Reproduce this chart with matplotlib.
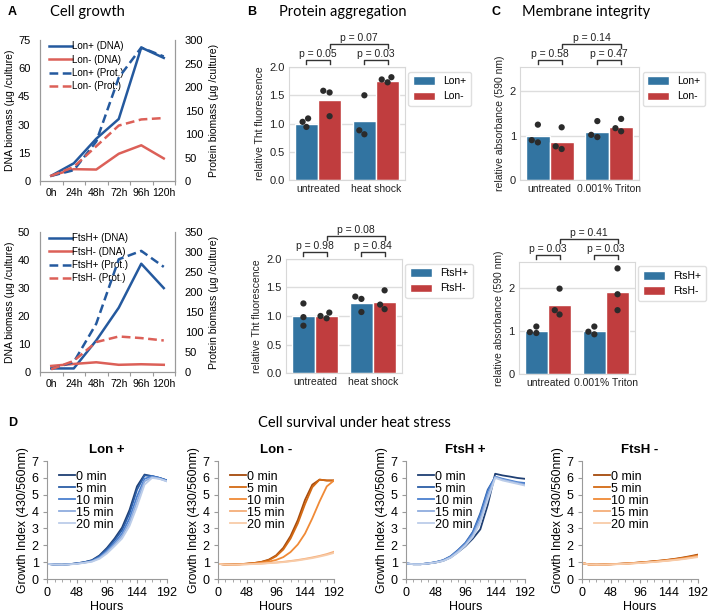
import matplotlib
matplotlib.use('Agg')
import matplotlib.pyplot as plt
import matplotlib.transforms as mtransforms
import numpy as np
import pandas as pd
import seaborn as sns

plt.rcParams['font.family'] = ['Liberation Sans', 'DejaVu Sans']

# ---- A: cell growth ----
days = ['0h', '24h', '48h', '72h', '96h', '120h']
lon_plus_dna = [2.8, 9.4, 22.5, 33, 71, 65.5]
lon_minus_dna = [2.8, 6.3, 6.1, 14.5, 19, 12]
lon_plus_prot = [11, 23, 84, 220, 284, 265]
lon_minus_prot = [11, 30, 74, 118, 131, 134]
ftsh_plus_dna = [1.3, 1.3, 11.3, 23, 38.7, 30]
ftsh_minus_dna = [2.2, 2.9, 3.5, 2.6, 2.8, 2.6]
ftsh_plus_prot = [8, 25, 121, 282, 303, 263]
ftsh_minus_prot = [7, 28, 75, 89, 85, 79]

# ---- B: protein aggregation (ThT) ----
cond_b = ['untreated', 'heat shock']
tht_lon_plus = [1.0, 1.05]
tht_lon_minus = [1.41, 1.76]
tht_lon_plus_pts = [[1.03, 1.09, 0.94], [1.5, 0.88, 0.81]]
tht_lon_minus_pts = [[1.58, 1.55, 1.13], [1.78, 1.82, 1.73]]
tht_ftsh_plus = [1.0, 1.22]
tht_ftsh_minus = [1.0, 1.24]
tht_ftsh_plus_pts = [[1.22, 0.98, 0.83], [1.34, 1.3, 1.07]]
tht_ftsh_minus_pts = [[1.0, 1.06, 0.96], [1.45, 1.2, 1.12]]

# ---- C: membrane integrity ----
cond_c = ['untreated', '0.001% Triton']
abs_lon_plus = [1.0, 1.08]
abs_lon_minus = [0.86, 1.19]
abs_lon_plus_pts = [[1.25, 0.9, 0.85], [1.33, 1.02, 0.97]]
abs_lon_minus_pts = [[1.19, 0.76, 0.7], [1.38, 1.17, 1.1]]
abs_ftsh_plus = [1.0, 1.0]
abs_ftsh_minus = [1.59, 1.91]
abs_ftsh_plus_pts = [[1.1, 0.95, 0.97], [1.1, 0.98, 0.92]]
abs_ftsh_minus_pts = [[1.98, 1.48, 1.38], [2.45, 1.85, 1.48]]

# ---- D: growth under heat stress ----
hours = [0, 12, 24, 36, 48, 60, 72, 84, 96, 108, 120, 132, 144, 156, 168, 180, 192]
heat_labels = ['0 min', '5 min', '10 min', '15 min', '20 min']
lon_plus_curves = [
    [0.90, 0.86, 0.85, 0.88, 0.93, 1.00, 1.12, 1.40, 1.85, 2.40, 3.05, 4.10, 5.50, 6.20, 6.10, 6.00, 5.85],
    [0.90, 0.86, 0.85, 0.88, 0.93, 1.00, 1.10, 1.36, 1.78, 2.30, 2.90, 3.90, 5.30, 6.15, 6.12, 6.00, 5.85],
    [0.90, 0.86, 0.85, 0.88, 0.92, 0.98, 1.07, 1.30, 1.68, 2.15, 2.70, 3.60, 4.90, 5.95, 6.10, 6.00, 5.85],
    [0.90, 0.86, 0.85, 0.87, 0.91, 0.97, 1.05, 1.25, 1.60, 2.05, 2.55, 3.35, 4.60, 5.80, 6.05, 5.95, 5.80],
    [0.90, 0.86, 0.85, 0.87, 0.90, 0.96, 1.03, 1.20, 1.52, 1.95, 2.40, 3.15, 4.30, 5.60, 6.00, 5.95, 5.80],
]
lon_minus_curves = [
    [0.90, 0.86, 0.86, 0.88, 0.91, 0.95, 1.02, 1.15, 1.40, 1.85, 2.55, 3.50, 4.70, 5.60, 5.90, 5.85, 5.85],
    [0.90, 0.86, 0.86, 0.88, 0.91, 0.95, 1.01, 1.12, 1.35, 1.75, 2.40, 3.30, 4.45, 5.45, 5.90, 5.85, 5.85],
    [0.90, 0.86, 0.86, 0.87, 0.90, 0.93, 0.97, 1.03, 1.13, 1.30, 1.60, 2.05, 2.70, 3.60, 4.60, 5.50, 5.85],
    [0.90, 0.86, 0.85, 0.86, 0.88, 0.90, 0.92, 0.95, 0.98, 1.02, 1.07, 1.13, 1.20, 1.28, 1.37, 1.48, 1.62],
    [0.90, 0.86, 0.85, 0.86, 0.87, 0.89, 0.91, 0.94, 0.97, 1.00, 1.05, 1.10, 1.17, 1.24, 1.33, 1.43, 1.55],
]
ftsh_plus_curves = [
    [0.92, 0.88, 0.88, 0.92, 0.98, 1.08, 1.28, 1.60, 1.95, 2.40, 2.95, 4.40, 6.25, 6.15, 6.08, 6.00, 5.95],
    [0.92, 0.88, 0.88, 0.93, 1.00, 1.12, 1.35, 1.72, 2.15, 2.80, 3.90, 5.30, 6.05, 5.90, 5.80, 5.70, 5.65],
    [0.92, 0.88, 0.88, 0.93, 1.00, 1.11, 1.33, 1.70, 2.12, 2.75, 3.80, 5.20, 6.08, 5.95, 5.85, 5.75, 5.70],
    [0.92, 0.88, 0.88, 0.92, 0.99, 1.09, 1.30, 1.65, 2.05, 2.62, 3.55, 4.95, 6.05, 5.90, 5.80, 5.70, 5.60],
    [0.92, 0.88, 0.88, 0.92, 0.98, 1.07, 1.26, 1.58, 1.98, 2.50, 3.35, 4.70, 6.00, 5.85, 5.75, 5.65, 5.55],
]
ftsh_minus_curves = [
    [0.95, 0.86, 0.85, 0.86, 0.88, 0.90, 0.92, 0.95, 0.98, 1.02, 1.06, 1.10, 1.15, 1.21, 1.28, 1.36, 1.45],
    [0.95, 0.86, 0.85, 0.86, 0.88, 0.90, 0.92, 0.95, 0.98, 1.01, 1.05, 1.09, 1.14, 1.19, 1.26, 1.33, 1.41],
    [0.95, 0.86, 0.85, 0.86, 0.87, 0.89, 0.91, 0.94, 0.97, 1.00, 1.04, 1.08, 1.12, 1.17, 1.23, 1.30, 1.38],
    [0.95, 0.86, 0.85, 0.86, 0.87, 0.89, 0.91, 0.93, 0.96, 0.99, 1.02, 1.06, 1.10, 1.15, 1.20, 1.27, 1.34],
    [0.95, 0.86, 0.85, 0.85, 0.87, 0.88, 0.90, 0.92, 0.95, 0.98, 1.01, 1.05, 1.09, 1.13, 1.18, 1.24, 1.30],
]

BLUE = '#24599e'
RED = '#dc6058'
blues = ['#1f3f73', '#2c5ea6', '#4b80cf', '#8fadde', '#bccde9']
oranges = ['#a54a0c', '#d36a14', '#f08a36', '#f5ae78', '#f8cba8']
AXGRAY = '#9a9a9a'


def growth_panel(rect, dna_p, dna_m, prot_p, prot_m, names, dna_max, dna_step, prot_max, prot_step):
    ax = fig.add_axes(rect)
    ax2 = ax.twinx()
    x = np.arange(len(days))
    l1, = ax.plot(x, dna_p, color=BLUE, lw=1.8)
    l2, = ax.plot(x, dna_m, color=RED, lw=1.8)
    l3, = ax2.plot(x, prot_p, color=BLUE, lw=1.8, ls=(0, (3.5, 1.8)))
    l4, = ax2.plot(x, prot_m, color=RED, lw=1.8, ls=(0, (3.5, 1.8)))
    ax.set_xlim(-0.5, len(days) - 0.5)
    ax.set_ylim(0, dna_max)
    ax2.set_ylim(0, prot_max)
    ax.set_yticks(np.arange(0, dna_max + 1, dna_step))
    ax2.set_yticks(np.arange(0, prot_max + 1, prot_step))
    ax.set_xticks(np.arange(-0.5, len(days)), [])
    ax.set_xticks(x, days, minor=True)
    ax.tick_params(axis='x', which='major', length=3, color=AXGRAY)
    ax.tick_params(axis='x', which='minor', length=0, labelsize=7.5, pad=5)
    for a in (ax, ax2):
        a.spines['top'].set_visible(False)
        for s in ('left', 'right', 'bottom'):
            a.spines[s].set_color(AXGRAY)
        a.tick_params(axis='y', length=0, labelsize=8, pad=7)
    ax.set_ylabel('DNA biomass (µg /culture)', fontsize=7.5, labelpad=2)
    ax2.set_ylabel('Protein biomass (µg /culture)', fontsize=7.5, labelpad=4)
    ax.legend([l1, l2, l3, l4], names, loc='upper left', bbox_to_anchor=(0.04, 1.02),
              frameon=False, fontsize=7, handlelength=2.3, handletextpad=0.05,
              labelspacing=0.35, borderaxespad=0)


def bracket(ax, x0, x1, y, h, text):
    tr = mtransforms.blended_transform_factory(ax.transData, ax.transAxes)
    ax.plot([x0, x0, x1, x1], [y - h, y, y, y - h], color='#333333', lw=1,
            transform=tr, clip_on=False)
    ax.text((x0 + x1) / 2, y + 0.008, text, ha='center', va='bottom', fontsize=7.5,
            color='#222222', transform=tr)


def bar_panel(rect, conds, names, bars_p, bars_m, pts_p, pts_m, ymax, yticks, yfmt, ylabel, pvals):
    ax = fig.add_axes(rect)
    bars = pd.DataFrame({'cond': conds * 2, 'strain': [names[0]] * 2 + [names[1]] * 2,
                         'val': list(bars_p) + list(bars_m)})
    rows = []
    for name, pts in ((names[0], pts_p), (names[1], pts_m)):
        for c, vals in zip(conds, pts):
            for v in vals:
                rows.append((c, name, v))
    pts = pd.DataFrame(rows, columns=['cond', 'strain', 'val'])
    sns.barplot(data=bars, x='cond', y='val', hue='strain', order=conds, hue_order=names,
                palette=['tab:blue', 'tab:red'], errorbar=None, edgecolor='white',
                linewidth=1, ax=ax)
    sns.swarmplot(data=pts, x='cond', y='val', hue='strain', order=conds, hue_order=names,
                  dodge=True, palette=['#2b2b2b', '#2b2b2b'], size=4.5, legend=False, ax=ax)
    ax.set_xlim(-0.5, 1.5)
    ax.set_ylim(0, ymax)
    ax.set_yticks(yticks, [yfmt.format(t) for t in yticks])
    ax.set_xlabel('')
    ax.set_ylabel(ylabel, fontsize=7.5, color='#222222', labelpad=3)
    ax.tick_params(length=0, labelsize=8, colors='#222222', pad=3)
    ax.tick_params(axis='x', labelsize=7.5)
    ax.grid(axis='y', color='#dddddd', lw=1)
    ax.set_axisbelow(True)
    for s in ax.spines.values():
        s.set_color('#d8d8d8')
    handles, labels = ax.get_legend_handles_labels()
    ax.legend(handles[:2], labels[:2], loc='upper left', bbox_to_anchor=(1.03, 0.96),
              fontsize=7.5, handlelength=2.1, handleheight=0.9, handletextpad=0.8,
              borderaxespad=0, borderpad=0.45, edgecolor='#d8d8d8', fancybox=True)
    bracket(ax, -0.2, 0.2, 1.06, 0.035, 'p = ' + pvals[0])
    bracket(ax, 0.8, 1.2, 1.06, 0.035, 'p = ' + pvals[1])
    bracket(ax, 0.2, 1.2, 1.205, 0.04, 'p = ' + pvals[2])


def curve_panel(rect, curves, colors, title):
    ax = fig.add_axes(rect)
    for vals, c, lab in zip(curves, colors, heat_labels):
        ax.plot(hours, vals, color=c, lw=1.3, label=lab)
    ax.set_xlim(0, 192)
    ax.set_ylim(0, 7)
    ax.set_xticks([0, 48, 96, 144, 192])
    ax.set_xticks(hours, minor=True)
    ax.set_yticks(range(0, 8))
    for s in ('top', 'right'):
        ax.spines[s].set_visible(False)
    for s in ('left', 'bottom'):
        ax.spines[s].set_color(AXGRAY)
    ax.tick_params(which='major', length=3, color=AXGRAY, labelsize=9, pad=3)
    ax.tick_params(which='minor', length=2, color=AXGRAY)
    ax.set_xlabel('Hours', fontsize=9, labelpad=1)
    ax.set_ylabel('Growth Index (430/560nm)', fontsize=8.8, labelpad=2)
    ax.set_title(title, fontsize=9.5, fontweight='bold', pad=6)
    ax.legend(loc='upper left', bbox_to_anchor=(0.06, 0.96), frameon=False, fontsize=9,
              handlelength=1.3, handletextpad=0.05, labelspacing=0.0, borderaxespad=0)


fig = plt.figure(figsize=(7.08, 6.14), dpi=100)

growth_panel([0.0565, 0.7052, 0.1907, 0.2296], lon_plus_dna, lon_minus_dna,
             lon_plus_prot, lon_minus_prot,
             ['Lon+ (DNA)', 'Lon- (DNA)', 'Lon+ (Prot.)', 'Lon- (Prot.)'], 75, 15, 300, 50)
growth_panel([0.0565, 0.394, 0.1907, 0.228], ftsh_plus_dna, ftsh_minus_dna,
             ftsh_plus_prot, ftsh_minus_prot,
             ['FtsH+ (DNA)', 'FtsH- (DNA)', 'FtsH+ (Prot.)', 'FtsH- (Prot.)'], 50, 10, 350, 50)

bar_panel([0.4082, 0.7068, 0.1638, 0.184], cond_b, ['Lon+', 'Lon-'], tht_lon_plus, tht_lon_minus,
          tht_lon_plus_pts, tht_lon_minus_pts, 2.0, [0, 0.5, 1.0, 1.5, 2.0], '{:.1f}',
          'relative Tht fluorescence', ['0.05', '0.03', '0.07'])
bar_panel([0.404, 0.3925, 0.1638, 0.1857], cond_b, ['FtsH+', 'FtsH-'], tht_ftsh_plus, tht_ftsh_minus,
          tht_ftsh_plus_pts, tht_ftsh_minus_pts, 2.0, [0, 0.5, 1.0, 1.5, 2.0], '{:.1f}',
          'relative Tht fluorescence', ['0.98', '0.84', '0.08'])
bar_panel([0.7345, 0.7068, 0.168, 0.184], cond_c, ['Lon+', 'Lon-'], abs_lon_plus, abs_lon_minus,
          abs_lon_plus_pts, abs_lon_minus_pts, 2.55, [0, 1, 2], '{:d}',
          'relative absorbance (590 nm)', ['0.58', '0.47', '0.14'])
bar_panel([0.733, 0.391, 0.1638, 0.1824], cond_c, ['FtsH+', 'FtsH-'], abs_ftsh_plus, abs_ftsh_minus,
          abs_ftsh_plus_pts, abs_ftsh_minus_pts, 2.6, [0, 1, 2], '{:d}',
          'relative absorbance (590 nm)', ['0.03', '0.03', '0.41'])

curve_panel([0.0664, 0.057, 0.1695, 0.192], lon_plus_curves, blues, 'Lon +')
curve_panel([0.308, 0.057, 0.1638, 0.192], lon_minus_curves, oranges, 'Lon -')
curve_panel([0.5734, 0.057, 0.168, 0.192], ftsh_plus_curves, blues, 'FtsH +')
curve_panel([0.822, 0.057, 0.1638, 0.192], ftsh_minus_curves, oranges, 'FtsH -')

# panel letters and titles
for letter, x, y in (('A', 8, 12), ('B', 247, 12), ('C', 492, 12), ('D', 8, 423)):
    fig.text(x / 708, 1 - y / 614, letter, fontsize=9, fontweight='bold', va='center', ha='left')
for title, x, y in (('Cell growth', 87, 12), ('Protein aggregation', 343, 12),
                    ('Membrane integrity', 586, 12), ('Cell survival under heat stress', 354, 423)):
    fig.text(x / 708, 1 - y / 614, title, fontsize=10.5, va='center', ha='center', family='Lato')

fig.savefig('out.png', dpi=100)
